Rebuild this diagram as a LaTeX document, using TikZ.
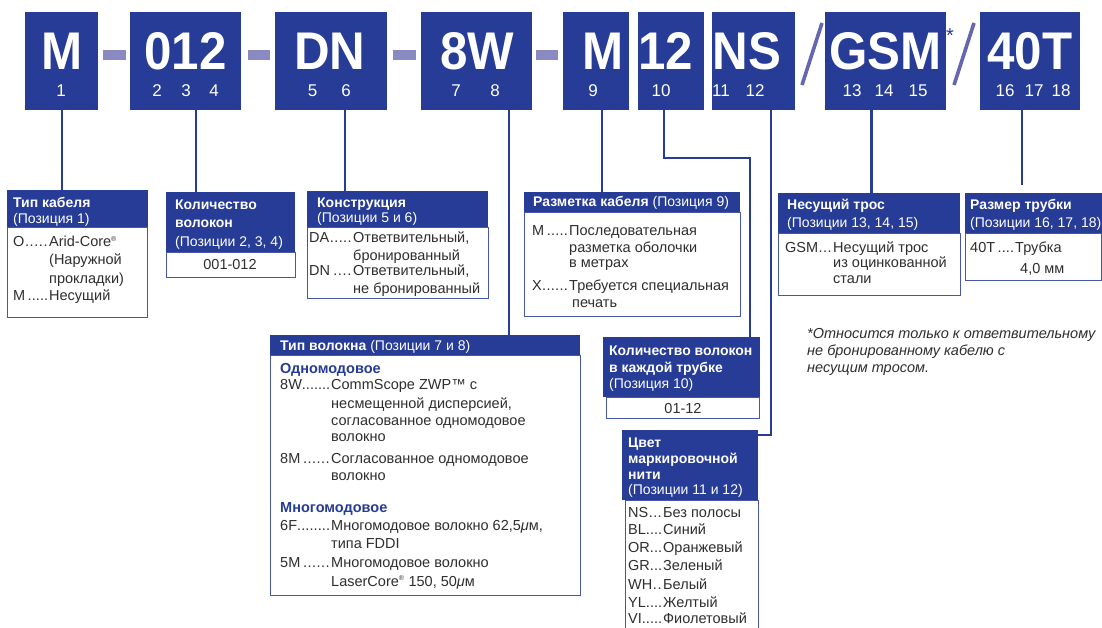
\documentclass[tikz,border=0pt]{standalone}
\usepackage{fontspec}
\usepackage{graphicx}
\setmainfont{Liberation Sans}
\definecolor{cblue}{HTML}{263C96}
\definecolor{cline}{HTML}{4656A8}
\definecolor{cdash}{HTML}{8A8AC2}
\definecolor{cslash}{HTML}{6666B0}
\definecolor{ctext}{HTML}{2E2E2E}
\newcommand\ld[2]{\makebox[#1pt][l]{#2\xleaders\hbox{.}\hfill\hspace{1pt}}}
\newcommand\bigt[1]{\scalebox{0.93}[1]{#1}}
\begin{document}
\begin{tikzpicture}[x=1pt,y=-1pt,line join=miter,
  topbox/.style={fill=cblue,draw=none,anchor=north west,inner sep=0,minimum height=98},
  hdr/.style={fill=cblue,draw=none,anchor=north west,inner sep=0},
  bodybox/.style={draw=cline,line width=0.9pt,fill=white,anchor=north west,inner sep=0},
  big/.style={text=white,font=\fontsize{53}{53}\selectfont\bfseries,anchor=base,inner sep=0},
  num/.style={text=white,font=\fontsize{17}{17}\selectfont,anchor=base,inner sep=0},
  ht/.style={text=white,font=\fontsize{14}{14}\selectfont,anchor=base west,inner sep=0},
  bt/.style={text=ctext,font=\fontsize{14.5}{14.5}\selectfont,anchor=base west,inner sep=0},
  sub/.style={text=cblue,font=\fontsize{14.5}{14.5}\selectfont\bfseries,anchor=base west,inner sep=0},
  fn/.style={text=ctext,font=\fontsize{14.5}{14.5}\selectfont\itshape,anchor=base west,inner sep=0},
  conn/.style={draw=cblue,line width=2.4pt}]
\useasboundingbox (0,0) rectangle (1102,628);
\fill[white] (0,0) rectangle (1102,628);

% top boxes
\node[topbox,minimum width=73] (tM) at (25,12) {};
\node[topbox,minimum width=111] (t012) at (130,12) {};
\node[topbox,minimum width=112] (tDN) at (275,12) {};
\node[topbox,minimum width=111] (t8W) at (421,12) {};
\node[topbox,minimum width=66] (tM9) at (563,12) {};
\node[topbox,minimum width=66] (t12) at (638,12) {};
\node[topbox,minimum width=83] (tNS) at (712,12) {};
\node[topbox,minimum width=121] (tGSM) at (825,12) {};
\node[topbox,minimum width=100] (t40T) at (980,12) {};

\node[big] (lM) at (62,70) {\bigt{M}};
\node[big] (l012) at (185.5,70) {\bigt{012}};
\node[big] (lDN) at (330,70) {\bigt{DN}};
\node[big] (l8W) at (477,70) {\bigt{8W}};
\node[big] (lM9) at (603,70) {\bigt{M}};
\node[big] (l12) at (665.5,70) {\bigt{12}};
\node[big] (lNS) at (747,70) {\bigt{NS}};
\node[big] (lGSM) at (885.5,70) {\bigt{GSM}};
\node[big] (l40T) at (1030,70) {\bigt{40T}};

\node[num] (n1) at (61,97) {1};
\node[num] (n2) at (157,97) {2};
\node[num] (n3) at (186,97) {3};
\node[num] (n4) at (214,97) {4};
\node[num] (n5) at (312.5,97) {5};
\node[num] (n6) at (346,97) {6};
\node[num] (n7) at (456,97) {7};
\node[num] (n8) at (495,97) {8};
\node[num] (n9) at (593,97) {9};
\node[num] (n10) at (661,97) {10};
\node[num] (n11) at (721,97) {11};
\node[num] (n12) at (755,97) {12};
\node[num] (n13) at (852,97) {13};
\node[num] (n14) at (884,97) {14};
\node[num] (n15) at (918,97) {15};
\node[num] (n16) at (1005,97) {16};
\node[num] (n17) at (1034,97) {17};
\node[num] (n18) at (1061,97) {18};

% dashes and slashes
\fill[cdash] (103,50) rectangle (126,60);
\fill[cdash] (247.5,50) rectangle (270,60);
\fill[cdash] (393,50) rectangle (416,60);
\fill[cdash] (536,50) rectangle (558,60);
\draw[cslash,line width=3.6pt] (802,85) -- (822,23);
\draw[cslash,line width=3.6pt] (954,85) -- (974,23);
\node[text=cblue,font=\fontsize{20}{20}\selectfont,inner sep=0] (ast) at (950,36) {*};

% boxes: body then header
\node[bodybox,minimum width=140,minimum height=90] (b1) at (7,227) {};
\node[hdr,minimum width=141,minimum height=37] (h1) at (7,190) {};
\node[bodybox,minimum width=129,minimum height=25] (b2) at (166,252) {};
\node[hdr,minimum width=129,minimum height=60] (h2) at (166,192) {};
\node[bodybox,minimum width=181,minimum height=71] (b3) at (307,227) {};
\node[hdr,minimum width=181,minimum height=36] (h3) at (307,191) {};
\node[bodybox,minimum width=216,minimum height=104] (b4) at (524,212) {};
\node[hdr,minimum width=216,minimum height=20] (h4) at (524,192) {};
\node[bodybox,minimum width=182,minimum height=62] (b5) at (778,233) {};
\node[hdr,minimum width=182,minimum height=40] (h5) at (778,193) {};
\node[bodybox,minimum width=136,minimum height=47] (b6) at (965,233) {};
\node[hdr,minimum width=137,minimum height=40] (h6) at (965,193) {};
\node[bodybox,minimum width=310,minimum height=240] (b7) at (270,355) {};
\node[hdr,minimum width=310,minimum height=20] (h7) at (270,335) {};
\node[bodybox,minimum width=153,minimum height=21] (b8) at (606,397) {};
\node[hdr,minimum width=157,minimum height=60] (h8) at (603,337) {};
\node[bodybox,minimum width=133,minimum height=140] (b9) at (625,500) {};
\node[hdr,minimum width=136,minimum height=70] (h9) at (622,430) {};

% connectors
\coordinate (e40) at (1022,185);
\draw[conn] (tM.south) -- (tM.south |- h1.north);
\draw[conn] (t012.south -| 196,0) -- (h2.north -| 196,0);
\draw[conn] (tDN.south -| 345,0) -- (h3.north -| 345,0);
\draw[conn] (t8W.south -| 509,0) -- (h7.north -| 509,0);
\draw[conn] (tM9.south -| 602,0) -- (h4.north -| 602,0);
\draw[conn] (t12.south -| 664,0) -- (664,158) -- (750,158) -- (h8.north -| 750,0);
\draw[conn] (tNS.south -| 771,0) -- (771,435) -- (h9.east |- 0,435);
\draw[conn] (tGSM.south -| 871.5,0) -- (h5.north -| 871.5,0);
\draw[conn] (t40T.south -| e40) -- (e40);

% header texts
\node[ht] (x1a) at (13,208) {\bfseries Тип кабеля};
\node[ht] (x1b) at (13,224) {(Позиция 1)};
\node[ht] (x2a) at (175,210) {\bfseries Количество};
\node[ht] (x2b) at (175,228) {\bfseries волокон};
\node[ht] (x2c) at (175,247) {(Позиции 2, 3, 4)};
\node[ht] (x3a) at (317,208) {\bfseries Конструкция};
\node[ht] (x3b) at (317,223) {(Позиции 5 и 6)};
\node[ht] (x4a) at (533,207) {\textbf{Разметка кабеля} (Позиция 9)};
\node[ht] (x5a) at (787,210) {\bfseries Несущий трос};
\node[ht] (x5b) at (787,228) {(Позиции 13, 14, 15)};
\node[ht] (x6a) at (970,210) {\bfseries Размер трубки};
\node[ht] (x6b) at (970,228) {(Позиции 16, 17, 18)};
\node[ht] (x7a) at (280,350) {\textbf{Тип волокна} (Позиции 7 и 8)};
\node[ht] (x8a) at (609,355) {\bfseries Количество волокон};
\node[ht] (x8b) at (609,372) {\bfseries в каждой трубке};
\node[ht] (x8c) at (609,388) {(Позиция 10)};
\node[ht] (x9a) at (628,447) {\bfseries Цвет};
\node[ht] (x9b) at (628,463) {\bfseries маркировочной};
\node[ht] (x9c) at (628,479) {\bfseries нити};
\node[ht] (x9d) at (628,494) {(Позиции 11 и 12)};

% body texts
\node[bt] (y1a) at (13,247) {\ld{36}{O}Arid-Core\textsuperscript{\scriptsize ®}};
\node[bt] (y1b) at (49,265) {(Наружной};
\node[bt] (y1c) at (49,283) {прокладки)};
\node[bt] (y1d) at (13,300) {\ld{36}{M\,}Несущий};
\node[bt,anchor=center] (y2a) at (230,265) {001-012};
\node[bt] (y3a) at (309,243) {\ld{44}{DA}Ответвительный,};
\node[bt] (y3b) at (353,260) {бронированный};
\node[bt] (y3c) at (309,276) {\ld{44}{DN\,}Ответвительный,};
\node[bt] (y3d) at (353,293) {не бронированный};
\node[bt] (y4a) at (532,236) {\ld{37}{M\,}Последовательная};
\node[bt] (y4b) at (569,252) {разметка оболочки};
\node[bt] (y4c) at (569,268) {в метрах};
\node[bt] (y4d) at (532,290) {\ld{37}{X}Требуется специальная};
\node[bt] (y4e) at (572,307) {печать};
\node[bt] (y5a) at (785,252) {\ld{48}{GSM}Несущий трос};
\node[bt] (y5b) at (833,268) {из оцинкованной};
\node[bt] (y5c) at (833,283) {стали};
\node[bt] (y6a) at (970,252) {\ld{45}{40T\,}Трубка};
\node[bt] (y6b) at (1020,273) {4,0 мм};
\node[fn] (f1) at (807,338) {*Относится только к ответвительному};
\node[fn] (f2) at (807,355) {не бронированному кабелю с};
\node[fn] (f3) at (807,372) {несущим тросом.};
\node[sub] (y7a) at (280,373) {Одномодовое};
\node[bt] (y7b) at (280,389) {\ld{51}{8W}CommScope ZWP™ с};
\node[bt] (y7c) at (331,408) {несмещенной дисперсией,};
\node[bt] (y7d) at (331,425) {согласованное одномодовое};
\node[bt] (y7e) at (331,441) {волокно};
\node[bt] (y7f) at (280,463) {\ld{51}{8M\,}Согласованное одномодовое};
\node[bt] (y7g) at (331,480) {волокно};
\node[sub] (y7h) at (280,512) {Многомодовое};
\node[bt] (y7i) at (280,530) {\ld{51}{6F}Многомодовое волокно 62,5{\itshape μ}м,};
\node[bt] (y7j) at (331,548) {типа FDDI};
\node[bt] (y7k) at (280,567) {\ld{51}{5M\,}Многомодовое волокно};
\node[bt] (y7l) at (331,586) {LaserCore\textsuperscript{\scriptsize ®} 150, 50{\itshape μ}м};
\node[bt] (y8a) at (683,413) [anchor=base] {01-12};
\node[bt] (y9a) at (628,517) {\ld{35}{NS}Без полосы};
\node[bt] (y9b) at (628,534) {\ld{35}{BL}Синий};
\node[bt] (y9c) at (628,552) {\ld{35}{OR}Оранжевый};
\node[bt] (y9d) at (628,570) {\ld{35}{GR}Зеленый};
\node[bt] (y9e) at (628,589) {\ld{35}{WH}Белый};
\node[bt] (y9f) at (628,607) {\ld{35}{YL}Желтый};
\node[bt] (y9g) at (628,623) {\ld{35}{VI}Фиолетовый};
\end{tikzpicture}
\end{document}
